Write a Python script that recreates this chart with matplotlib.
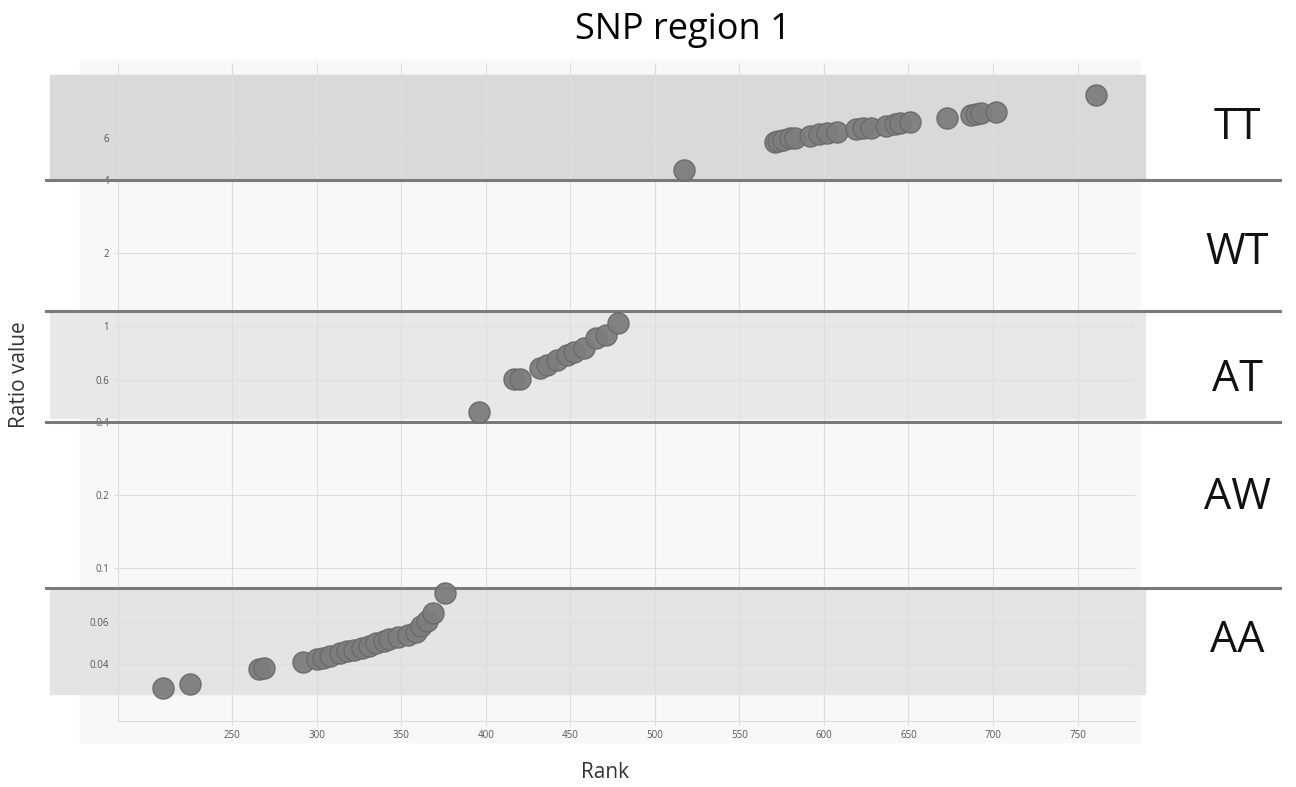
import matplotlib.pyplot as plt
import matplotlib.transforms as mtrans
from matplotlib.patches import Rectangle
import numpy as np

# genotype groups
rank_aa = [209, 225, 266, 269, 292, 300, 304, 308, 314, 318, 322, 327, 331,
           335, 340, 343, 348, 354, 359, 362, 365, 369, 376]
ratio_aa = [0.0318, 0.0331, 0.0381, 0.0385, 0.0410, 0.0419, 0.0425, 0.0432,
            0.0446, 0.0452, 0.0460, 0.0466, 0.0474, 0.0491, 0.0500, 0.0510,
            0.0518, 0.0529, 0.0546, 0.0575, 0.0602, 0.0651, 0.0790]
rank_at = [396, 417, 420, 432, 436, 442, 448, 452, 458, 465, 471, 478]
ratio_at = [0.443, 0.602, 0.605, 0.668, 0.690, 0.723, 0.759, 0.783, 0.809,
            0.889, 0.918, 1.026]
rank_tt = [517, 571, 573, 576, 580, 583, 592, 597, 602, 608, 619, 623, 628,
           637, 642, 645, 651, 673, 687, 690, 693, 702, 761]
ratio_tt = [4.41, 5.78, 5.82, 5.86, 5.95, 6.00, 6.10, 6.18, 6.25, 6.32, 6.52,
            6.55, 6.60, 6.71, 6.80, 6.88, 6.95, 7.22, 7.45, 7.50, 7.55, 7.66,
            9.00]

x_ticks = [250, 300, 350, 400, 450, 500, 550, 600, 650, 700, 750]
y_ticks = [0.04, 0.06, 0.1, 0.2, 0.4, 0.6, 1, 2, 4, 6]
y_labels = ['0.04', '0.06', '0.1', '0.2', '0.4', '0.6', '1', '2', '4', '6']

# band limits (ratio) and the group names on the right
cut_lines = [4.0, 1.15, 0.4, 0.0826]
bands = [(4.0, 10.9, '#d9d9d9'), (0.417, 1.15, '#e8e8e8'), (0.0302, 0.0826, '#e4e4e4')]
groups = ['TT', 'WT', 'AT', 'AW', 'AA']
group_y = [6.6, 2.0, 0.6, 0.195, 0.05]

plt.rcParams['font.family'] = ['Open Sans', 'DejaVu Sans']

W, H = 1296, 787
fig = plt.figure(figsize=(W / 100, H / 100), dpi=100)
fig.patches.append(Rectangle((80 / W, 1 - 742 / H), (1140 - 80) / W, (742 - 60) / H,
                             transform=fig.transFigure, color='#f8f8f8', zorder=-10))

ax = fig.add_axes([118 / W, 1 - 721 / H, (1135 - 118) / W, (721 - 63) / H])
ax.set_facecolor('none')
ax.set_yscale('log')
ax.set_xlim(182.5, 784)
ax.set_ylim(0.02333, 12.2)

tr = mtrans.blended_transform_factory(fig.transFigure, ax.transData)
for lo, hi, col in bands:
    ax.add_patch(Rectangle((50 / W, lo), (1145 - 50) / W, hi - lo, transform=tr,
                           color=col, zorder=0.5, clip_on=False))
for v in cut_lines:
    ax.plot([46 / W, 1280 / W], [v, v], transform=tr, color='#7a7a7a', lw=2.2,
            clip_on=False, zorder=3)

ax.grid(True, color='#dedede', lw=0.8)
ax.set_axisbelow(False)
for line in ax.get_xgridlines() + ax.get_ygridlines():
    line.set_zorder(1)
for rk, rt in [(rank_aa, ratio_aa), (rank_at, ratio_at), (rank_tt, ratio_tt)]:
    ax.scatter(rk, rt, s=230, color='#7d7d7d', edgecolors='#6a6a6a', linewidths=1,
               alpha=0.95, zorder=4)

ax.set_xticks(x_ticks)
ax.set_xticklabels([str(t) for t in x_ticks])
ax.set_yticks(y_ticks)
ax.set_yticklabels(y_labels)
ax.minorticks_off()
ax.tick_params(axis='both', length=3, color='#dddddd', labelsize=7, labelcolor='#555555')
for s in ['top', 'right']:
    ax.spines[s].set_visible(False)
for s in ['left', 'bottom']:
    ax.spines[s].set_color('#dddddd')

for g, gy in zip(groups, group_y):
    ax.text(1237 / W, gy, g, transform=tr, fontsize=31, ha='center', va='center',
            color='#111111')

fig.text(683 / W, 1 - 30 / H, 'SNP region 1', fontsize=26, ha='center', va='center')
fig.text(20 / W, 1 - 375 / H, 'Ratio value', fontsize=15, rotation=90,
         ha='center', va='center', color='#333333')
fig.text(605 / W, 1 - 773 / H, 'Rank', fontsize=15, ha='center', va='center',
         color='#333333')

fig.savefig('out.png')
